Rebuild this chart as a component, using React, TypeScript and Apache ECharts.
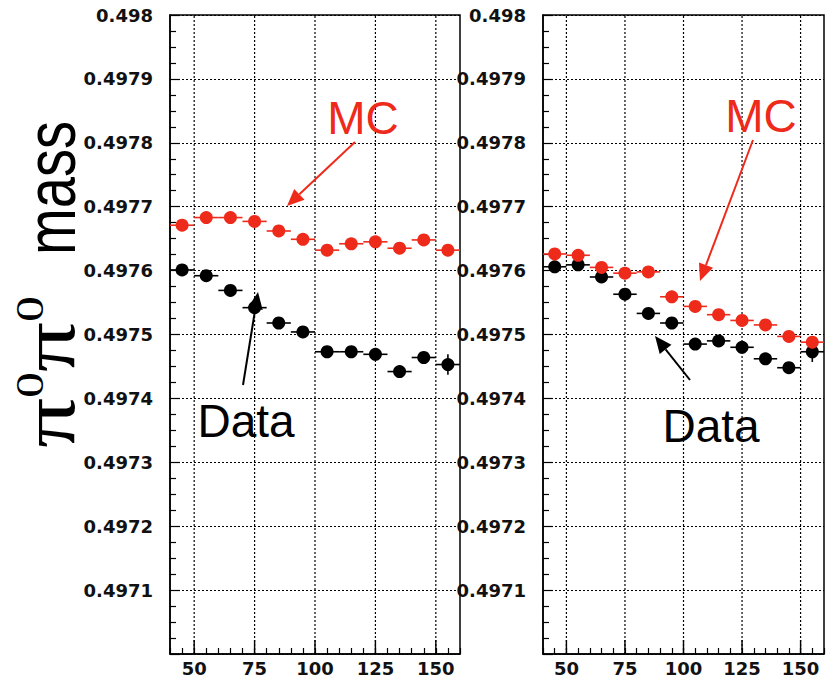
import React, { useEffect, useRef } from "react";
import * as echarts from "echarts";

const xVals = [45, 55, 65, 75, 85, 95, 105, 115, 125, 135, 145, 155];
const xHalfWidth = 5;
const xMajorTicks = [50, 75, 100, 125, 150];

const leftMC = [0.497671, 0.497683, 0.497683, 0.497677, 0.497662, 0.497649, 0.497632, 0.497642, 0.497645, 0.497635, 0.497648, 0.497632];
const leftMCErr = [0.000004, 0.000004, 0.000004, 0.000004, 0.000004, 0.000004, 0.000004, 0.000004, 0.000004, 0.000004, 0.000004, 0.000004];
const leftData = [0.497601, 0.497592, 0.497569, 0.497542, 0.497518, 0.497504, 0.497473, 0.497473, 0.497469, 0.497442, 0.497464, 0.497453];
const leftDataErr = [0.000004, 0.000004, 0.000004, 0.000005, 0.000005, 0.000005, 0.000005, 0.000005, 0.000006, 0.000007, 0.000009, 0.000016];

const rightMC = [0.497626, 0.497624, 0.497605, 0.497596, 0.497598, 0.497559, 0.497544, 0.497531, 0.497522, 0.497515, 0.497497, 0.497488];
const rightMCErr = [0.000004, 0.000004, 0.000004, 0.000004, 0.000004, 0.000004, 0.000004, 0.000004, 0.000004, 0.000004, 0.000005, 0.000005];
const rightData = [0.497606, 0.497609, 0.49759, 0.497563, 0.497533, 0.497518, 0.497485, 0.49749, 0.49748, 0.497462, 0.497448, 0.497473];
const rightDataErr = [0.000004, 0.000004, 0.000004, 0.000005, 0.000005, 0.000005, 0.000005, 0.000005, 0.000006, 0.000007, 0.000008, 0.000016];

const yMin = 0.497;
const yMax = 0.498;
const yStep = 0.0001;
const xMin = 40;
const xMax = 160;

const RED = "#ee2a1b";
const BLACK = "#000000";

function pointSeries(xIndex: number, vals: number[], errs: number[], color: string, name: string) {
  return {
    type: "custom",
    name,
    xAxisIndex: xIndex,
    yAxisIndex: xIndex,
    z: 5,
    data: vals.map((v, i) => [xVals[i], v, xHalfWidth, errs[i]]),
    renderItem: (params: any, api: any) => {
      const x = api.value(0);
      const y = api.value(1);
      const ex = api.value(2);
      const ey = api.value(3);
      const c = api.coord([x, y]);
      const l = api.coord([x - ex, y]);
      const r = api.coord([x + ex, y]);
      const t = api.coord([x, y + ey]);
      const b = api.coord([x, y - ey]);
      return {
        type: "group",
        children: [
          { type: "line", shape: { x1: l[0], y1: l[1], x2: r[0], y2: r[1] }, style: { stroke: color, lineWidth: 1.6 } },
          { type: "line", shape: { x1: t[0], y1: t[1], x2: b[0], y2: b[1] }, style: { stroke: color, lineWidth: 1.6 } },
          { type: "circle", shape: { cx: c[0], cy: c[1], r: 6.5 }, style: { fill: color } },
        ],
      };
    },
  };
}

function gridSeries(idx: number) {
  return {
    type: "custom",
    xAxisIndex: idx,
    yAxisIndex: idx,
    silent: true,
    z: 1,
    data: xMajorTicks.map((v) => [v, yMin]),
    renderItem: (params: any, api: any) => {
      const v = api.value(0);
      const p0 = api.coord([v, yMin]);
      const p1 = api.coord([v, yMax]);
      return {
        type: "group",
        children: [
          { type: "line", shape: { x1: p0[0], y1: p0[1], x2: p1[0], y2: p1[1] }, style: { stroke: "#000", lineWidth: 1.2, lineDash: [2, 2] } },
          { type: "line", shape: { x1: p0[0], y1: p0[1], x2: p0[0], y2: p0[1] - 14 }, style: { stroke: "#000", lineWidth: 1.4 } },
        ],
      };
    },
  };
}

function xAxisCfg(idx: number) {
  return {
    type: "value",
    gridIndex: idx,
    min: xMin,
    max: xMax,
    interval: 5,
    axisLine: { show: true, onZero: false, lineStyle: { color: "#000", width: 1.5 } },
    axisTick: { show: true, inside: true, length: 6, lineStyle: { color: "#000", width: 1.2 } },
    splitLine: { show: false },
    axisLabel: {
      margin: 5,
      color: "#111",
      fontFamily: "DejaVu Sans",
      fontWeight: "bold",
      fontSize: 18,
      formatter: (v: number) => (v % 25 === 0 && v >= 50 ? String(v) : ""),
    },
  };
}

function yAxisCfg(idx: number) {
  return {
    type: "value",
    gridIndex: idx,
    min: yMin,
    max: yMax,
    interval: yStep,
    axisLine: { show: true, lineStyle: { color: "#000", width: 1.5 } },
    axisTick: { show: true, inside: true, length: 10, lineStyle: { color: "#000", width: 1.2 } },
    minorTick: { show: true, splitNumber: 4, length: 6, lineStyle: { color: "#000", width: 1.2 } },
    splitLine: { show: true, lineStyle: { color: "#000", width: 1.2, type: [2, 2] } },
    axisLabel: {
      margin: 17,
      color: "#111",
      fontFamily: "DejaVu Sans",
      fontWeight: "bold",
      fontSize: 18,
      formatter: (v: number) => (v < yMin + yStep / 2 ? "" : String(parseFloat(v.toFixed(4)))),
    },
  };
}

function arrow(x1: number, y1: number, x2: number, y2: number, color: string) {
  const ang = Math.atan2(y2 - y1, x2 - x1);
  const len = 17;
  const half = 7.5;
  const bx = x2 - len * Math.cos(ang);
  const by = y2 - len * Math.sin(ang);
  const px = -Math.sin(ang) * half;
  const py = Math.cos(ang) * half;
  return [
    { type: "line", shape: { x1, y1, x2: bx, y2: by }, style: { stroke: color, lineWidth: 2 }, z: 10 },
    {
      type: "polygon",
      shape: { points: [[x2, y2], [bx + px, by + py], [bx - px, by - py]] },
      style: { fill: color },
      z: 10,
    },
  ];
}

export default function App() {
  const ref = useRef<HTMLDivElement>(null);
  useEffect(() => {
    if (!ref.current) return;
    const chart = echarts.init(ref.current, null, { renderer: "svg" });
    chart.setOption({
      animation: false,
      backgroundColor: "#fff",
      grid: [
        { left: 170, top: 15, width: 290, height: 639, show: true, borderColor: "#000", borderWidth: 1.5, backgroundColor: "transparent" },
        { left: 543, top: 15, width: 290, height: 639, show: true, borderColor: "#000", borderWidth: 1.5, backgroundColor: "transparent" },
      ],
      xAxis: [xAxisCfg(0), xAxisCfg(1)],
      yAxis: [yAxisCfg(0), yAxisCfg(1)],
      series: [
        gridSeries(0),
        gridSeries(1),
        pointSeries(0, leftMC, leftMCErr, RED, "MC"),
        pointSeries(0, leftData, leftDataErr, BLACK, "Data"),
        pointSeries(1, rightData, rightDataErr, BLACK, "Data"),
        pointSeries(1, rightMC, rightMCErr, RED, "MC"),
      ],
      graphic: [
        {
          type: "text",
          x: 48,
          y: 372,
          rotation: Math.PI / 2,
          scaleX: 1.3,
          z: 10,
          style: {
            text: "{pi|π}{sup|0}{pi|π}{sup|0}",
            align: "center",
            verticalAlign: "middle",
            fill: "#000",
            rich: {
              pi: { fontFamily: "Liberation Serif", fontSize: 76, fill: "#000", verticalAlign: "bottom" },
              sup: { fontFamily: "Liberation Serif", fontSize: 40, fill: "#000", verticalAlign: "top" },
            },
          },
        },
        {
          type: "text",
          x: 51,
          y: 188,
          rotation: Math.PI / 2,
          scaleY: 1.25,
          z: 10,
          style: { text: "mass", align: "center", verticalAlign: "middle", fontFamily: "Liberation Sans", fontSize: 56, fill: "#000" },
        },
        { type: "text", x: 363, y: 118, z: 10, style: { text: "MC", align: "center", verticalAlign: "middle", fontFamily: "Liberation Sans", fontSize: 46, fill: RED } },
        { type: "text", x: 761, y: 116, z: 10, style: { text: "MC", align: "center", verticalAlign: "middle", fontFamily: "Liberation Sans", fontSize: 46, fill: RED } },
        { type: "text", x: 246, y: 421, z: 10, style: { text: "Data", align: "center", verticalAlign: "middle", fontFamily: "Liberation Sans", fontSize: 46, fill: "#000" } },
        { type: "text", x: 711, y: 426, z: 10, style: { text: "Data", align: "center", verticalAlign: "middle", fontFamily: "Liberation Sans", fontSize: 46, fill: "#000" } },
        ...arrow(355, 142, 287, 206, RED),
        ...arrow(753, 140, 700, 281, RED),
        ...arrow(243, 385, 258, 292, "#000"),
        ...arrow(690, 380, 655, 336, "#000"),
      ],
    });
    return () => chart.dispose();
  }, []);
  return (
    <div
      ref={ref}
      style={{ position: "fixed", left: 0, top: 0, width: 827, height: 680, overflow: "hidden", background: "#fff" }}
    />
  );
}
